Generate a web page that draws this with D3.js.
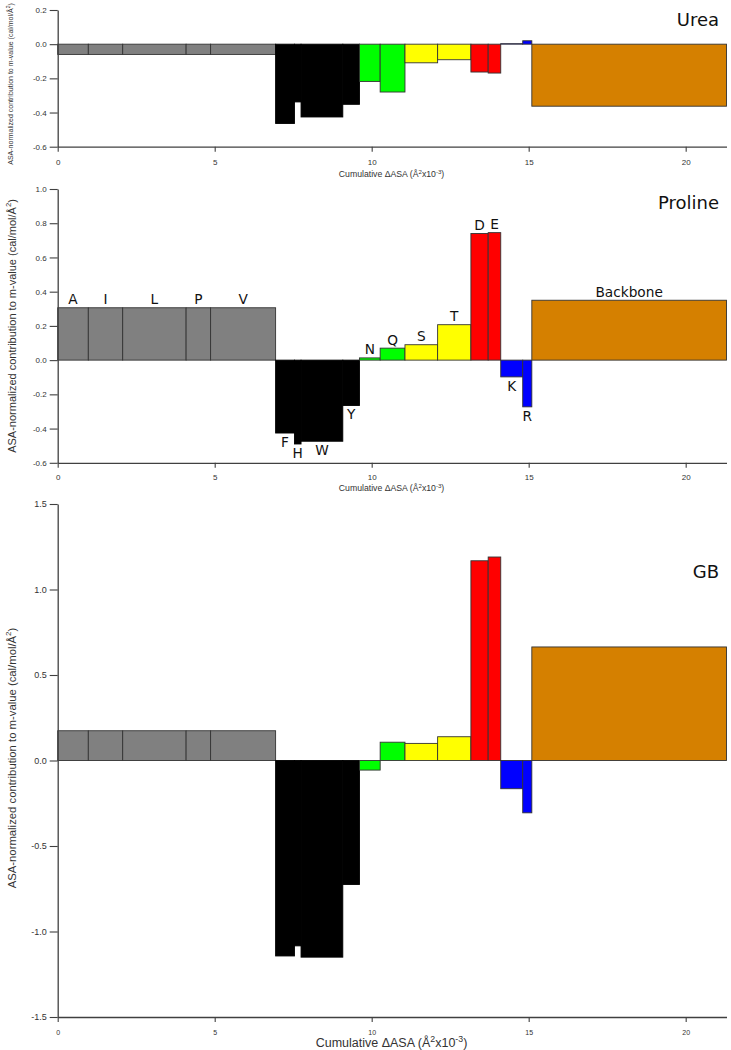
<!DOCTYPE html>
<html><head><meta charset="utf-8">
<script src="https://cdn.jsdelivr.net/npm/d3@7"></script>
<style>body{margin:0;background:#fff}svg{display:block}</style>
</head><body><svg id="c" width="731" height="1050"></svg>
<script>
// ---- data ----
const residues = ["A","I","L","P","V","F","H","W","Y","N","Q","S","T","D","E","K","R","Backbone"];
// ΔASA of each group (Å² ×10⁻³); bars are drawn on the cumulative axis
const deltaASA = [0.975,1.095,2.02,0.78,2.07,0.60,0.21,1.33,0.53,0.66,0.79,1.04,1.06,0.55,0.40,0.70,0.29,6.20];
const groups = ["np","np","np","np","np","ar","ar","ar","ar","am","am","oh","oh","ac","ac","bs","bs","bb"];
const urea    = [-0.06,-0.06,-0.06,-0.06,-0.06,-0.464,-0.338,-0.426,-0.352,-0.218,-0.28,-0.109,-0.091,-0.163,-0.169,0.003,0.02,-0.363];
const proline = [0.306,0.306,0.306,0.306,0.306,-0.426,-0.49,-0.474,-0.265,0.013,0.07,0.09,0.207,0.74,0.745,-0.098,-0.273,0.35];
const gb      = [0.174,0.174,0.174,0.174,0.174,-1.143,-1.084,-1.15,-0.725,-0.056,0.107,0.10,0.139,1.168,1.19,-0.165,-0.306,0.664];
const xTicks = [0,5,10,15,20];
const ureaTicks = [-0.6,-0.4,-0.2,0.0,0.2];
const prolineTicks = [-0.6,-0.4,-0.2,0.0,0.2,0.4,0.6,0.8,1.0];
const gbTicks = [-1.5,-1.0,-0.5,0.0,0.5,1.0,1.5];
const groupColor = {np:"#808080", ar:"#000000", am:"#00ff00", oh:"#ffff00", ac:"#ff0000", bs:"#0000ff", bb:"#d58000"};

// ---- drawing ----
const svg = d3.select("#c");
const AX = "#404040";
const SANS = "'Liberation Sans', Arial, sans-serif";
const VERD = "'DejaVu Sans', Verdana, sans-serif";
const x = d3.scaleLinear().domain([0, 21.3]).range([57.7, 726.5]);
const cum = d3.cumsum(deltaASA);
const bars = residues.map((r, i) => ({r, i, x0: i ? cum[i-1] : 0, x1: cum[i], g: groups[i]}));

const panels = [
  {title:"Urea", vals:urea, ticks:ureaTicks, dom:[-0.6,0.2], range:[146.7,10],
   tf:8, xtf:8, xtOff:12.5, xtitleF:8.7, xtitleY:177, ytitleF:7, ytitleX:13, ytitleY:84, titleY:26, labels:false},
  {title:"Proline", vals:proline, ticks:prolineTicks, dom:[-0.6,1.0], range:[462.8,189],
   tf:8, xtf:8, xtOff:11.5, xtitleF:8.7, xtitleY:491, ytitleF:11, ytitleX:15.5, ytitleY:326, titleY:209, labels:true},
  {title:"GB", vals:gb, ticks:gbTicks, dom:[-1.5,1.5], range:[1017,504],
   tf:9, xtf:7, xtOff:13.5, xtitleF:12.5, xtitleY:1046.5, ytitleF:11.3, ytitleX:15.5, ytitleY:758, titleY:578, labels:false}
];

// parts: [text, isSuperscript]
function supText(sel, parts, size) {
  let raised = false;
  parts.forEach(([t, s]) => {
    const ts = sel.append("tspan").text(t);
    if (s && !raised) { ts.attr("dy", -size*0.38).attr("font-size", size*0.7); raised = true; }
    else if (s) { ts.attr("font-size", size*0.7); }
    else if (raised) { ts.attr("dy", size*0.38); raised = false; }
  });
}

panels.forEach(p => {
  const y = d3.scaleLinear().domain(p.dom).range(p.range);
  const g = svg.append("g");

  // bars
  g.selectAll("rect").data(bars).join("rect")
    .attr("x", d => x(d.x0))
    .attr("width", d => x(d.x1) - x(d.x0))
    .attr("y", d => y(Math.max(0, p.vals[d.i])))
    .attr("height", d => Math.max(0.3, Math.abs(y(p.vals[d.i]) - y(0))))
    .attr("fill", d => groupColor[d.g])
    .attr("stroke", d => d.g === "ar" ? "#000" : "#333")
    .attr("stroke-width", 0.9);

  // y axis
  const ya = g.append("g").attr("transform", `translate(${x(0)},0)`)
    .call(d3.axisLeft(y).tickValues(p.ticks).tickFormat(d => d.toFixed(1)).tickSize(8).tickSizeOuter(0).tickPadding(3));
  // x axis
  const xa = g.append("g").attr("transform", `translate(0,${p.range[0]})`)
    .call(d3.axisBottom(x).tickValues(xTicks).tickFormat(d3.format("d")).tickSize(5).tickSizeOuter(0).tickPadding(p.xtOff - 5));
  [ya, xa].forEach(a => {
    a.select(".domain").attr("stroke", AX).attr("stroke-width", 1.3);
    a.selectAll(".tick line").attr("stroke", AX).attr("stroke-width", 1.1);
    a.selectAll(".tick text").attr("fill", "#333").attr("font-family", SANS);
  });
  ya.selectAll(".tick text").attr("font-size", p.tf);
  xa.selectAll(".tick text").attr("font-size", p.xtf);

  // x title
  const xt = g.append("text").attr("x", 391.5).attr("y", p.xtitleY)
    .attr("text-anchor", "middle").attr("font-family", SANS).attr("font-size", p.xtitleF).attr("fill", "#333");
  supText(xt, [["Cumulative \u0394ASA (\u00c5",0],["2",1],["x10",0],["-3",1],[")",0]], p.xtitleF);

  // y title
  const yt = g.append("text").attr("transform", `translate(${p.ytitleX},${p.ytitleY}) rotate(-90)`)
    .attr("text-anchor", "middle").attr("font-family", SANS).attr("font-size", p.ytitleF).attr("fill", "#333");
  supText(yt, [["ASA-normalized contribution to m-value (cal/mol/\u00c5",0],["2",1],[")",0]], p.ytitleF);

  // panel title
  g.append("text").attr("x", 719).attr("y", p.titleY).attr("text-anchor", "end")
    .attr("font-family", VERD).attr("font-size", 18).attr("fill", "#111").text(p.title);

  if (p.labels) {
    g.selectAll("text.lab").data(bars).join("text").attr("class", "lab")
      .attr("x", d => (x(d.x0) + x(d.x1)) / 2)
      .attr("y", d => p.vals[d.i] >= 0 ? y(p.vals[d.i]) - 3.5 : y(p.vals[d.i]) + 14)
      .attr("text-anchor", "middle").attr("font-family", VERD).attr("font-size", 13.7).attr("fill", "#111")
      .text(d => d.r);
  }
});
</script></body></html>
